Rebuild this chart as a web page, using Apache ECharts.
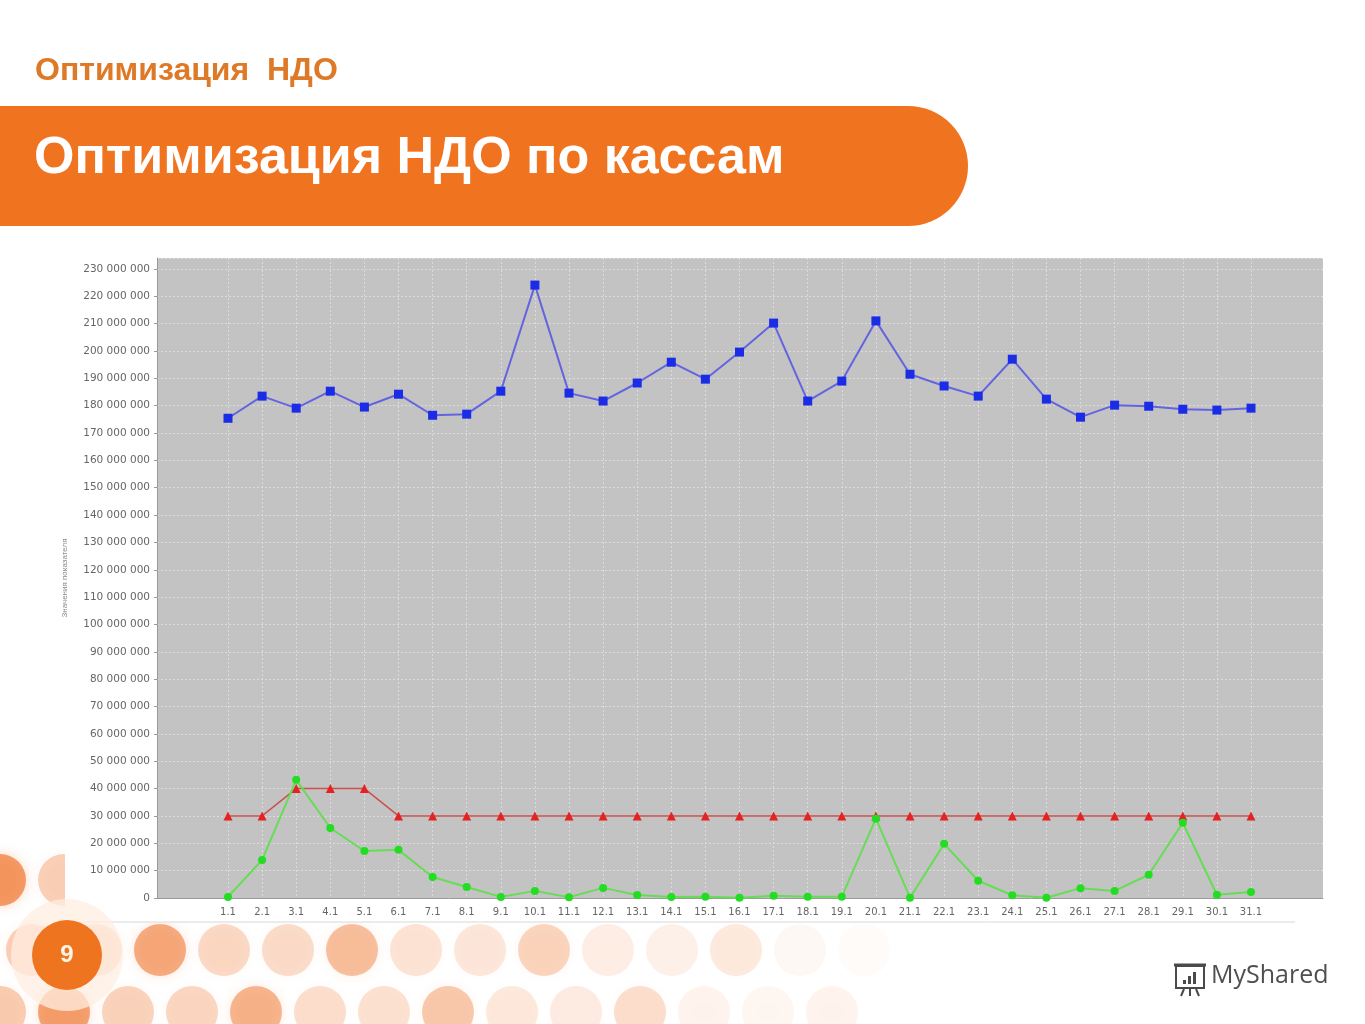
<!DOCTYPE html>
<html>
<head>
<meta charset="utf-8">
<script src="https://cdn.jsdelivr.net/npm/echarts@6/dist/echarts.min.js"></script>
<style>
html,body{margin:0;padding:0;background:#fff;}
#chart{width:1365px;height:1024px;}
</style>
</head>
<body>
<div id="chart"></div>
<script>
// ---- data ----
var categories = ['1.1','2.1','3.1','4.1','5.1','6.1','7.1','8.1','9.1','10.1','11.1','12.1','13.1','14.1','15.1','16.1','17.1','18.1','19.1','20.1','21.1','22.1','23.1','24.1','25.1','26.1','27.1','28.1','29.1','30.1','31.1'];
var blueValues = [175.4,183.5,179.1,185.3,179.5,184.2,176.5,176.9,185.3,224.1,184.6,181.7,188.3,195.9,189.7,199.6,210.2,181.7,189.0,211.0,191.5,187.2,183.5,197.0,182.4,175.8,180.2,179.8,178.7,178.4,179.1].map(function(v){return v*1e6;});
var redValues = [30,30,40,40,40,30,30,30,30,30,30,30,30,30,30,30,30,30,30,30,30,30,30,30,30,30,30,30,30,30,30].map(function(v){return v*1e6;});
var greenValues = [0.4,13.9,43.2,25.6,17.2,17.6,7.7,4.0,0.4,2.6,0.3,3.7,1.1,0.4,0.5,0.1,0.8,0.5,0.5,29.0,0.1,19.8,6.3,1.0,0.1,3.6,2.6,8.5,27.5,1.2,2.2].map(function(v){return v*1e6;});
var yAxisTitle = 'Значения показателя';
var headerText = 'Оптимизация  НДО';
var bannerText = 'Оптимизация НДО по кассам';
var pageNumber = '9';

var FONT = '"Liberation Sans", Arial, sans-serif';
var AXFONT = '"DejaVu Sans", Verdana, sans-serif';

function fmt(v){ return String(Math.round(v)).replace(/\B(?=(\d{3})+(?!\d))/g,' '); }

// decorative dots (background pattern, bottom-left)
var dots = [];
var rowsY = [880, 950, 1012];
for (var r = 0; r < rowsY.length; r++) {
  for (var c = 0; c < 16; c++) {
    var x = c * 64 + (r % 2 ? 32 : 0);
    var fade = Math.max(0, 1 - x / 950);
    var dark = ((c + r) % 3 === 0);
    var op = (dark ? 0.7 : 0.35) * fade;
    if (op < 0.03) continue;
    dots.push({
      type: 'circle', silent: true, z: -20,
      shape: {cx: x, cy: rowsY[r], r: 26},
      style: {fill: 'rgba(240,120,50,' + op.toFixed(3) + ')', shadowBlur: 12, shadowColor: 'rgba(240,120,50,' + (op*0.6).toFixed(3) + ')'}
    });
  }
}

var graphics = dots.concat([
  // white chart panel covering dots
  {type:'rect', silent:true, z:-10, shape:{x:65, y:238, width:1230, height:684}, style:{fill:'#ffffff'}},
  {type:'line', silent:true, z:-9, shape:{x1:65, y1:922, x2:1295, y2:922}, style:{stroke:'#d8d8d8', lineWidth:1}},
  // header
  {type:'text', z:5, left:35, top:55, style:{text:headerText, font:'bold 32px ' + FONT, fill:'#de7a27'}},
  // banner
  {type:'rect', z:5, shape:{x:0, y:106, width:968, height:120, r:[0,60,60,0]}, style:{fill:'#f07320'}},
  {type:'text', z:6, left:34, top:133, style:{text:bannerText, font:'bold 52px ' + FONT, fill:'#ffffff'}},
  // page number badge
  {type:'circle', silent:true, z:-5, shape:{cx:67, cy:955, r:56}, style:{fill:'rgba(255,238,226,0.75)'}},
  {type:'circle', z:3, shape:{cx:67, cy:955, r:35}, style:{fill:'#ef7420'}},
  {type:'text', z:4, x:67, y:955, style:{text:pageNumber, font:'bold 24px ' + FONT, fill:'#fff6e8', align:'center', verticalAlign:'middle'}},
  // MyShared logo
  {type:'group', z:5, x:1172, y:962, children:[
    {type:'rect', shape:{x:4, y:4, width:28, height:22}, style:{fill:'none', stroke:'#4a4a4a', lineWidth:2}},
    {type:'line', shape:{x1:2, y1:3, x2:34, y2:3}, style:{stroke:'#4a4a4a', lineWidth:3}},
    {type:'rect', shape:{x:11, y:18, width:3, height:4}, style:{fill:'#4a4a4a'}},
    {type:'rect', shape:{x:16, y:14, width:3, height:8}, style:{fill:'#4a4a4a'}},
    {type:'rect', shape:{x:21, y:10, width:3, height:12}, style:{fill:'#4a4a4a'}},
    {type:'line', shape:{x1:12, y1:27, x2:9, y2:34}, style:{stroke:'#4a4a4a', lineWidth:2}},
    {type:'line', shape:{x1:18, y1:27, x2:18, y2:34}, style:{stroke:'#4a4a4a', lineWidth:2}},
    {type:'line', shape:{x1:24, y1:27, x2:27, y2:34}, style:{stroke:'#4a4a4a', lineWidth:2}}
  ]},
  {type:'text', z:5, left:1211, top:963, style:{text:'MyShared', font:'25px "Open Sans", sans-serif', fill:'#4f4f4f'}}
]);

var Y_MAX = 234e6;
var splitStyle = {color:'#dcdcdc', width:1, type:[2,2]};

var option = {
  animation: false,
  backgroundColor: '#ffffff',
  graphic: graphics,
  grid: [
    {left:157, right:42, top:258, bottom:126, show:true, backgroundColor:'#c3c3c3', borderWidth:0, z:-1},
    {left:228, right:114, top:258, bottom:126, show:false}
  ],
  xAxis: [
    {gridIndex:0, type:'value', min:0, max:1, z:3, axisLabel:{show:false}, axisTick:{show:false}, splitLine:{show:false},
     axisLine:{show:true, lineStyle:{color:'#9a9a9a'}}},
    {gridIndex:1, type:'category', data:categories, boundaryGap:false, z:2,
     axisLine:{show:false}, axisTick:{show:false},
     axisLabel:{interval:0, fontFamily:AXFONT, fontSize:10, color:'#666', margin:9},
     splitLine:{show:true, interval:0, lineStyle:splitStyle}}
  ],
  yAxis: [
    {gridIndex:0, type:'value', min:0, max:Y_MAX, interval:10e6, z:2,
     name:yAxisTitle, nameLocation:'middle', nameRotate:90, nameGap:88,
     nameTextStyle:{fontFamily:FONT, fontSize:8, color:'#888'},
     axisLine:{show:true, lineStyle:{color:'#9a9a9a'}},
     axisTick:{show:true, length:3, lineStyle:{color:'#9a9a9a'}},
     axisLabel:{showMaxLabel:false, formatter:fmt, fontFamily:AXFONT, fontSize:10.5, color:'#666', margin:7},
     splitLine:{show:true, lineStyle:splitStyle}},
    {gridIndex:1, type:'value', min:0, max:Y_MAX, interval:10e6, show:false, splitLine:{show:false}}
  ],
  series: [
    {name:'blue', type:'line', xAxisIndex:1, yAxisIndex:1, data:blueValues, symbol:'rect', symbolSize:9,
     lineStyle:{color:'#6464e0', width:2}, itemStyle:{color:'#1a2ce6'}, z:5},
    {name:'red', type:'line', xAxisIndex:1, yAxisIndex:1, data:redValues, symbol:'triangle', symbolSize:9,
     lineStyle:{color:'#cc5050', width:1.5}, itemStyle:{color:'#e52222'}, z:4},
    {name:'green', type:'line', xAxisIndex:1, yAxisIndex:1, data:greenValues, symbol:'circle', symbolSize:8,
     lineStyle:{color:'#66dd55', width:2}, itemStyle:{color:'#22dd22'}, z:6}
  ]
};

var chart = echarts.init(document.getElementById('chart'), null, {renderer:'canvas'});
chart.setOption(option);
</script>
</body>
</html>
